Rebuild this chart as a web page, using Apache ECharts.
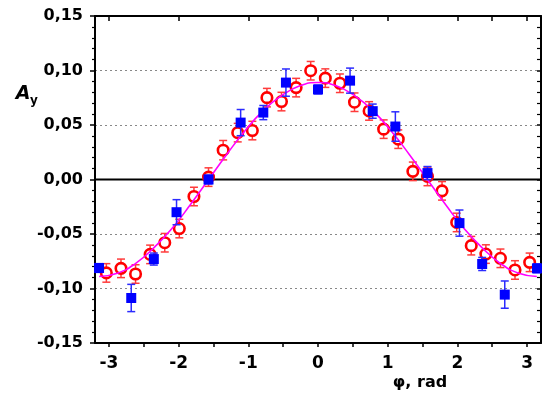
<!DOCTYPE html>
<html>
<head>
<meta charset="utf-8">
<script src="https://cdn.jsdelivr.net/npm/echarts@6/dist/echarts.min.js"></script>
<style>
  html, body { margin: 0; padding: 0; background: #fff; }
  #chart { width: 545px; height: 396px; }
</style>
</head>
<body>
<div id="chart"></div>
<script>
// red open circles: bin centres from -29pi/30 to 29pi/30
const redX = [-3.037, -2.827, -2.618, -2.409, -2.199, -1.990, -1.780, -1.571, -1.361, -1.152,
  -0.942, -0.733, -0.524, -0.314, -0.105, 0.105, 0.314, 0.524, 0.733, 0.942,
  1.152, 1.361, 1.571, 1.780, 1.990, 2.199, 2.409, 2.618, 2.827, 3.037];
const redY = [-0.0857, -0.0815, -0.0867, -0.0687, -0.0580, -0.0450, -0.0156, 0.0022, 0.0269, 0.0430,
  0.0449, 0.0751, 0.0715, 0.0843, 0.0998, 0.0930, 0.0883, 0.0709, 0.0629, 0.0462,
  0.0370, 0.0075, 0.0028, -0.0104, -0.0394, -0.0607, -0.0684, -0.0723, -0.0830, -0.0760];
const redErr = [0.0085, 0.0085, 0.0085, 0.0085, 0.0085, 0.0085, 0.0085, 0.0085, 0.0089, 0.0085,
  0.0085, 0.0085, 0.0085, 0.0085, 0.0085, 0.0085, 0.0085, 0.0085, 0.0085, 0.0085,
  0.0085, 0.0085, 0.0085, 0.0085, 0.0085, 0.0085, 0.0085, 0.0085, 0.0085, 0.0085];

// blue filled squares
const blueX = [-3.142, -2.68, -2.356, -2.03, -1.571, -1.11, -0.785, -0.46, 0,
  0.46, 0.785, 1.11, 1.571, 2.03, 2.356, 2.68, 3.142];
const blueY = [-0.0812, -0.1087, -0.0730, -0.0300, 0.0000, 0.0522, 0.0614, 0.0889, 0.0826,
  0.0907, 0.0627, 0.0486, 0.0059, -0.0400, -0.0775, -0.1056, -0.0815];
const blueErr = [0.004, 0.0125, 0.0055, 0.0115, 0.004, 0.012, 0.0065, 0.0125, 0.004,
  0.0115, 0.0065, 0.0135, 0.006, 0.012, 0.006, 0.0125, 0.004];

// magenta fit curve
const fitX = [-3.14, -2.88, -2.62, -2.36, -2.09, -1.83, -1.57, -1.31, -1.05, -0.79, -0.52, -0.26, 0,
  0.26, 0.52, 0.79, 1.05, 1.31, 1.57, 1.83, 2.09, 2.36, 2.62, 2.88, 3.14];
const fitY = [-0.0890, -0.0860, -0.0771, -0.0629, -0.0445, -0.0230, 0.0000, 0.0230, 0.0445, 0.0629, 0.0771, 0.0860, 0.0890,
  0.0860, 0.0771, 0.0629, 0.0445, 0.0230, 0.0000, -0.0230, -0.0445, -0.0629, -0.0771, -0.0860, -0.0890];

const xTicks = [-3, -2.5, -2, -1.5, -1, -0.5, 0, 0.5, 1, 1.5, 2, 2.5, 3];
const xLabels = [-3, -2, -1, 0, 1, 2, 3];
const xTopTicks = [-3, -2, -1, 0, 0.5, 1, 2, 2.5, 3];

const zip = (a, b) => a.map((v, i) => [v, b[i]]);
const FONT = 'DejaVu Sans';

function errorBars(xs, ys, es, color, z) {
  return {
    type: 'custom',
    z: z,
    silent: true,
    encode: { x: 0, y: [1, 2] },
    data: xs.map((x, i) => [x, ys[i] - es[i], ys[i] + es[i]]),
    renderItem: (params, api) => {
      const lo = api.coord([api.value(0), api.value(1)]);
      const hi = api.coord([api.value(0), api.value(2)]);
      const w = 4;
      const style = { stroke: color, lineWidth: 1.5 };
      return {
        type: 'group',
        children: [
          { type: 'line', shape: { x1: lo[0], y1: lo[1], x2: hi[0], y2: hi[1] }, style },
          { type: 'line', shape: { x1: hi[0] - w, y1: hi[1], x2: hi[0] + w, y2: hi[1] }, style },
          { type: 'line', shape: { x1: lo[0] - w, y1: lo[1], x2: lo[0] + w, y2: lo[1] }, style }
        ]
      };
    }
  };
}

const chart = echarts.init(document.getElementById('chart'));

const option = {
  animation: false,
  backgroundColor: '#fff',
  grid: { left: 95, right: 4, top: 16, bottom: 53 },
  xAxis: [
    {
      type: 'value', min: -3.2, max: 3.2,
      axisLine: { onZero: false, lineStyle: { color: '#000', width: 2 } },
      axisTick: { customValues: xTicks, length: 4, lineStyle: { color: '#000', width: 1.5 } },
      axisLabel: {
        customValues: xLabels, margin: 12,
        fontFamily: FONT, fontWeight: 'bold', fontSize: 17, color: '#000',
        formatter: v => String(v)
      },
      splitLine: { show: false }
    },
    {
      type: 'value', position: 'top', min: -3.2, max: 3.2,
      axisLine: { onZero: false, lineStyle: { color: '#000', width: 2 } },
      axisTick: { inside: true, customValues: xTopTicks, length: 5, lineStyle: { color: '#000', width: 1.5 } },
      axisLabel: { show: false },
      splitLine: { show: false }
    }
  ],
  yAxis: [
    {
      type: 'value', min: -0.15, max: 0.15, interval: 0.05,
      axisLine: { show: true, onZero: false, lineStyle: { color: '#000', width: 2 } },
      axisTick: { show: true, length: 5, lineStyle: { color: '#000', width: 1.5 } },
      minorTick: { show: true, splitNumber: 5, length: 3, lineStyle: { color: '#000', width: 1.2 } },
      axisLabel: {
        margin: 12, fontFamily: FONT, fontWeight: 'bold', fontSize: 16, color: '#000',
        formatter: v => v.toFixed(2).replace('.', ',')
      },
      splitLine: {
        show: true,
        lineStyle: { color: ['transparent', '#888', '#888', 'transparent', '#888', '#888', 'transparent'], type: [2, 3], width: 1 }
      }
    },
    {
      type: 'value', position: 'right', min: -0.15, max: 0.15, interval: 0.05,
      axisLine: { show: true, onZero: false, lineStyle: { color: '#000', width: 2 } },
      axisTick: { show: true, inside: true, length: 4, lineStyle: { color: '#000', width: 1.5 } },
      minorTick: { show: true, splitNumber: 5, length: 4, lineStyle: { color: '#000', width: 1.2 } },
      axisLabel: { show: false },
      splitLine: { show: false }
    }
  ],
  series: [
    {
      type: 'line', name: 'zero', data: [[-3.2, 0], [3.2, 0]],
      symbol: 'none', silent: true, z: 1,
      lineStyle: { color: '#000', width: 2 }
    },
    errorBars(redX, redY, redErr, '#ff3b3b', 2),
    {
      type: 'scatter', name: 'red', data: zip(redX, redY), z: 3,
      symbol: 'circle', symbolSize: 10.5,
      itemStyle: { color: '#fff', borderColor: '#ff0000', borderWidth: 2.6, opacity: 1 }
    },
    {
      type: 'line', name: 'fit', data: zip(fitX, fitY), z: 4,
      smooth: true, symbol: 'none', silent: true,
      lineStyle: { color: '#ff00ff', width: 1.6 }
    },
    errorBars(blueX, blueY, blueErr, '#2b2bff', 5),
    {
      type: 'scatter', name: 'blue', data: zip(blueX, blueY), z: 6,
      symbol: 'rect', symbolSize: 10,
      itemStyle: { color: '#0000ff', opacity: 1 }
    }
  ],
  graphic: [
    { type: 'text', x: 23, y: 94, style: { text: 'A', font: 'italic bold 19px "DejaVu Sans"', fill: '#000', align: 'center', verticalAlign: 'middle' } },
    { type: 'text', x: 34, y: 101, style: { text: 'y', font: 'bold 12px "DejaVu Sans"', fill: '#000', align: 'center', verticalAlign: 'middle' } },
    { type: 'text', x: 420, y: 383, style: { text: 'φ, rad', font: 'bold 16px "DejaVu Sans"', fill: '#000', align: 'center', verticalAlign: 'middle' } }
  ]
};

chart.setOption(option);
</script>
</body>
</html>
